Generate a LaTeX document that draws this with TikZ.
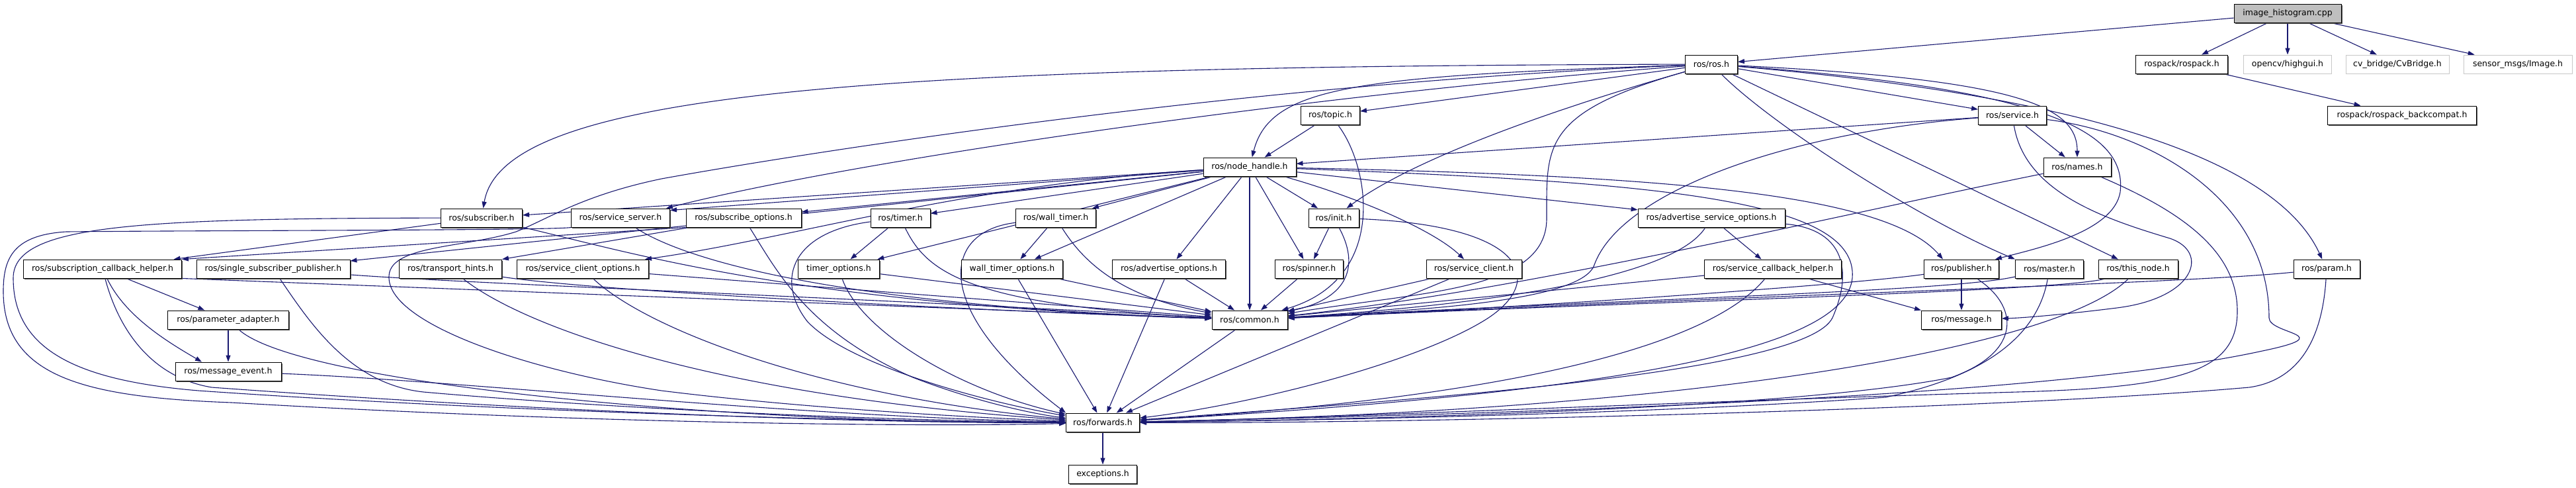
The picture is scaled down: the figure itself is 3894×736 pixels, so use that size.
\documentclass[tikz,border=0pt]{standalone}
\usepackage{fontspec}
\newfontfamily\doxyfont{DejaVu Sans}
\usepackage{tikz}
\usetikzlibrary{arrows.meta,shadows,backgrounds}
\definecolor{edgeblue}{HTML}{191970}
\definecolor{rootgray}{HTML}{BFBFBF}
\definecolor{extgray}{HTML}{C8C8C8}

\begin{document}
\begin{tikzpicture}[x=1pt, y=-1pt,
  every node/.style={shape=rectangle, minimum height=28pt, inner sep=2pt, line width=0.9pt, fill=white, font=\doxyfont\fontsize{12.5}{15}\selectfont},
  hdr/.style={draw=black, drop shadow={shadow xshift=1.5pt, shadow yshift=-1.5pt, fill=black!70, opacity=1}},
  roothdr/.style={hdr, fill=rootgray},
  exthdr/.style={draw=extgray},
  dep/.style={draw=edgeblue, line width=1.1pt, -{Triangle[length=10pt, width=7pt]}}]
  \useasboundingbox (0,0) rectangle (3894,736);

  \node[roothdr, minimum width=162pt] (cpp) at (3458,20) {image\_histogram.cpp};
  \node[hdr, minimum width=79pt] (ros) at (2587,97) {ros/ros.h};
  \node[hdr, minimum width=139pt] (rospack) at (3298,97) {rospack/rospack.h};
  \node[exthdr, minimum width=133pt] (highgui) at (3458,97) {opencv/highgui.h};
  \node[exthdr, minimum width=156pt] (cvbridge) at (3624,97) {cv\_bridge/CvBridge.h};
  \node[exthdr, minimum width=164pt] (image) at (3806,97) {sensor\_msgs/Image.h};
  \node[hdr, minimum width=225pt] (backcompat) at (3631,174) {rospack/rospack\_backcompat.h};
  \node[hdr, minimum width=89pt] (topic) at (2011,174) {ros/topic.h};
  \node[hdr, minimum width=103pt] (service) at (3042,174) {ros/service.h};
  \node[hdr, minimum width=140pt] (nh) at (1889,252) {ros/node\_handle.h};
  \node[hdr, minimum width=102pt] (names) at (3140,252) {ros/names.h};
  \node[hdr, minimum width=123pt] (subscriber) at (728,329) {ros/subscriber.h};
  \node[hdr, minimum width=149pt] (serviceserver) at (938,329) {ros/service\_server.h};
  \node[hdr, minimum width=174pt] (subscribeopts) at (1124,329) {ros/subscribe\_options.h};
  \node[hdr, minimum width=90pt] (timer) at (1361,329) {ros/timer.h};
  \node[hdr, minimum width=121pt] (walltimer) at (1596,329) {ros/wall\_timer.h};
  \node[hdr, minimum width=76pt] (init) at (2016,329) {ros/init.h};
  \node[hdr, minimum width=222pt] (advsrvopts) at (2587,329) {ros/advertise\_service\_options.h};
  \node[hdr, minimum width=239pt] (sch) at (155,406) {ros/subscription\_callback\_helper.h};
  \node[hdr, minimum width=232pt] (ssp) at (413,406) {ros/single\_subscriber\_publisher.h};
  \node[hdr, minimum width=155pt] (transport) at (681,406) {ros/transport\_hints.h};
  \node[hdr, minimum width=199pt] (scopts) at (881,406) {ros/service\_client\_options.h};
  \node[hdr, minimum width=123pt] (timeropts) at (1268,406) {timer\_options.h};
  \node[hdr, minimum width=153pt] (walltimeropts) at (1530,406) {wall\_timer\_options.h};
  \node[hdr, minimum width=171pt] (advopts) at (1767,406) {ros/advertise\_options.h};
  \node[hdr, minimum width=103pt] (spinner) at (1979,406) {ros/spinner.h};
  \node[hdr, minimum width=144pt] (srvclient) at (2228,406) {ros/service\_client.h};
  \node[hdr, minimum width=207pt] (srvcb) at (2680,406) {ros/service\_callback\_helper.h};
  \node[hdr, minimum width=113pt] (publisher) at (2965,406) {ros/publisher.h};
  \node[hdr, minimum width=103pt] (master) at (3098,406) {ros/master.h};
  \node[hdr, minimum width=120pt] (thisnode) at (3232,406) {ros/this\_node.h};
  \node[hdr, minimum width=100pt] (param) at (3517,406) {ros/param.h};
  \node[hdr, minimum width=183pt] (paramadapter) at (345,483) {ros/parameter\_adapter.h};
  \node[hdr, minimum width=114pt] (common) at (1889,483) {ros/common.h};
  \node[hdr, minimum width=121pt] (message) at (2965,483) {ros/message.h};
  \node[hdr, minimum width=160pt] (msgevent) at (345,561) {ros/message\_event.h};
  \node[hdr, minimum width=111pt] (forwards) at (1667,638) {ros/forwards.h};
  \node[hdr, minimum width=103pt] (exceptions) at (1667,716) {exceptions.h};

  \begin{scope}[on background layer]
  \draw[dep] (cpp) -- (ros);
  \draw[dep] (cpp) -- (rospack);
  \draw[dep] (cpp) -- (highgui);
  \draw[dep] (cpp) -- (cvbridge);
  \draw[dep] (cpp) -- (image);
  \draw[dep] (rospack) -- (backcompat);

  \draw[dep] (ros) -- (topic);
  \draw[dep] (ros) -- (service);
  \draw[dep] (ros) .. controls (2050,115) and (1920,130) .. (nh);
  \draw[dep] (ros) .. controls (3050,120) and (3140,160) .. (names);
  \draw[dep] (ros) .. controls (1300,100) and (760,140) .. (subscriber);
  \draw[dep] (ros) .. controls (2000,140) and (1300,240) .. ([xshift=-6pt]serviceserver.north east);
  \draw[dep] (ros) .. controls (1900,125) and (1250,225) .. (1000,270) .. controls (880,295) and (830,330) .. (780,350) .. controls (700,375) and (585,370) .. (588,420) .. controls (590,490) and (800,560) .. (1000,590) .. controls (1200,615) and (1450,630) .. (forwards);
  \draw[dep] (ros) .. controls (2400,150) and (2150,230) .. (init);
  \draw[dep] (ros) .. controls (2330,170) and (2338,220) .. (2338,330) .. controls (2338,440) and (2150,440) .. (common);
  \draw[dep] (ros) .. controls (3100,135) and (3215,200) .. (3205,290) .. controls (3195,350) and (3080,375) .. ([xshift=-6pt]publisher.north east);
  \draw[dep] (ros) .. controls (2680,190) and (2900,330) .. (master.north west);
  \draw[dep] (ros) -- (thisnode);
  \draw[dep] (ros) .. controls (3150,145) and (3440,240) .. (param);

  \draw[dep] (topic) -- (nh);
  \draw[dep] (topic) .. controls (2070,250) and (2100,420) .. (common);

  \draw[dep] (service) -- (nh);
  \draw[dep] (service) -- (names);
  \draw[dep] (service) .. controls (2700,200) and (2450,290) .. (2410,400) .. controls (2390,460) and (2100,470) .. (common);
  \draw[dep] (service) .. controls (3060,290) and (3180,330) .. (3280,360) .. controls (3340,380) and (3320,450) .. (3200,465) .. controls (3120,475) and (3060,480) .. (message);
  \draw[dep] (service) .. controls (3250,200) and (3430,300) .. (3430,480) .. controls (3430,505) and (3540,505) .. (3420,530) .. controls (3100,600) and (2300,625) .. (forwards);

  \draw[dep] (names) .. controls (2800,320) and (2300,440) .. (common);
  \draw[dep] (names) .. controls (3300,320) and (3382,380) .. (3382,470) .. controls (3382,560) and (3300,585) .. (3050,592) .. controls (2500,608) and (2000,632) .. (forwards);

  \draw[dep] (nh) -- (subscriber);
  \draw[dep] (nh) -- ([yshift=-3pt]serviceserver.north east);
  \draw[dep] (nh) -- (subscribeopts);
  \draw[dep] (nh) -- (timer);
  \draw[dep] (nh) -- (walltimer);
  \draw[dep] (nh) -- (ssp);
  \draw[dep] (nh) .. controls (1450,280) and (1200,360) .. ([xshift=-6pt]scopts.north east);
  \draw[dep] (nh) -- (timeropts);
  \draw[dep] (nh) -- (walltimeropts);
  \draw[dep] (nh) -- (advopts);
  \draw[dep] (nh) -- (common);
  \draw[dep] (nh) -- (spinner);
  \draw[dep] (nh) -- (init);
  \draw[dep] (nh) .. controls (2060,300) and (2170,350) .. (srvclient);
  \draw[dep] (nh) -- (advsrvopts);
  \draw[dep] (nh) .. controls (2500,265) and (2850,290) .. ([xshift=-28pt]publisher.north);
  \draw[dep] (nh) .. controls (2500,275) and (2810,300) .. (2800,420) .. controls (2790,520) and (2500,590) .. (forwards);

  \draw[dep] (subscriber) -- (sch);
  \draw[dep] (subscriber) .. controls (950,380) and (1200,460) .. (common);
  \draw[dep] (subscriber) .. controls (200,330) and (20,340) .. (20,420) .. controls (20,530) and (120,575) .. (300,590) .. controls (800,625) and (1400,638) .. (forwards);

  \draw[dep] (serviceserver) .. controls (1030,390) and (1250,460) .. (common);
  \draw[dep] (serviceserver) .. controls (840,348) and (300,348) .. (100,350) .. controls (20,355) and (5,390) .. (5,440) .. controls (5,570) and (130,600) .. (350,608) .. controls (900,640) and (1400,645) .. (forwards);

  \draw[dep] (subscribeopts.south west) -- (sch.north east);
  \draw[dep] ([xshift=6pt]subscribeopts.south west) -- (transport.north east);
  \draw[dep] (subscribeopts) .. controls (1175,410) and (1220,500) .. (1380,570) .. controls (1470,605) and (1560,625) .. (forwards);

  \draw[dep] (timer) -- (timeropts);
  \draw[dep] (timer) .. controls (1400,410) and (1460,460) .. (common);
  \draw[dep] (timer) .. controls (1200,350) and (1170,420) .. (1220,485) .. controls (1280,550) and (1480,605) .. (forwards);

  \draw[dep] (walltimer) -- (walltimeropts);
  \draw[dep] (walltimer) .. controls (1640,400) and (1700,450) .. (common);
  \draw[dep] (walltimer) .. controls (1420,350) and (1410,470) .. (forwards.north west);

  \draw[dep] (init) -- (spinner);
  \draw[dep] (init) .. controls (2055,400) and (2040,450) .. (common);
  \draw[dep] (init) .. controls (2300,340) and (2340,420) .. (2250,480) .. controls (2150,545) and (1900,610) .. (forwards);

  \draw[dep] (advsrvopts) -- (srvcb);
  \draw[dep] (advsrvopts) .. controls (2530,420) and (2250,460) .. (common);
  \draw[dep] (advsrvopts) .. controls (2780,345) and (2805,400) .. (2770,480) .. controls (2730,560) and (2200,600) .. (forwards);

  \draw[dep] (sch) -- (paramadapter);
  \draw[dep] (sch) .. controls (190,480) and (260,520) .. ([xshift=-40pt]msgevent.north);
  \draw[dep] (sch.south east) -- (common);
  \draw[dep] (sch) .. controls (180,500) and (230,570) .. (320,585) .. controls (800,620) and (1300,640) .. (forwards);

  \draw[dep] (ssp) .. controls (700,428) and (1300,450) .. (common);
  \draw[dep] (ssp) .. controls (470,490) and (530,580) .. (640,592) .. controls (900,615) and (1300,635) .. (forwards);

  \draw[dep] (transport) .. controls (900,440) and (1500,470) .. (common);
  \draw[dep] (transport) .. controls (800,500) and (1100,600) .. (forwards);
  \draw[dep] (scopts) -- (common);
  \draw[dep] (scopts) .. controls (980,500) and (1250,600) .. (forwards);
  \draw[dep] (timeropts) -- (common);
  \draw[dep] (timeropts) .. controls (1300,500) and (1450,590) .. (forwards);
  \draw[dep] (walltimeropts) -- (common);
  \draw[dep] (walltimeropts) -- (forwards);
  \draw[dep] (advopts) -- (common);
  \draw[dep] (advopts) -- (forwards);
  \draw[dep] (spinner) -- (common);
  \draw[dep] (srvclient) -- (common);
  \draw[dep] (srvclient) -- (forwards);

  \draw[dep] (srvcb) -- (message.north west);
  \draw[dep] (srvcb) -- (common);
  \draw[dep] (srvcb) .. controls (2620,480) and (2450,590) .. (forwards);
  \draw[dep] (publisher) -- (message);
  \draw[dep] (publisher) .. controls (2800,430) and (2300,465) .. (common);
  \draw[dep] (publisher) .. controls (3050,460) and (3060,530) .. (2950,570) .. controls (2700,620) and (2000,635) .. (forwards);
  \draw[dep] (master) .. controls (2950,440) and (2500,450) .. (common);
  \draw[dep] (master) .. controls (3085,480) and (3040,560) .. (2850,600) .. controls (2500,625) and (2000,635) .. (forwards);
  \draw[dep] (thisnode) .. controls (3120,440) and (2500,455) .. (common);
  \draw[dep] (thisnode) .. controls (3120,520) and (2600,620) .. (forwards);
  \draw[dep] (param) .. controls (3300,428) and (2800,440) .. (common);
  \draw[dep] (param) .. controls (3510,520) and (3470,575) .. (3400,585) .. controls (3000,620) and (2100,640) .. (forwards);

  \draw[dep] (paramadapter) -- (msgevent);
  \draw[dep] (paramadapter) .. controls (450,580) and (1100,640) .. (forwards);
  \draw[dep] (msgevent) .. controls (700,575) and (1200,630) .. (forwards);
  \draw[dep] (common) -- (forwards);
  \draw[dep] (forwards) -- (exceptions);
  \end{scope}
\end{tikzpicture}
\end{document}
